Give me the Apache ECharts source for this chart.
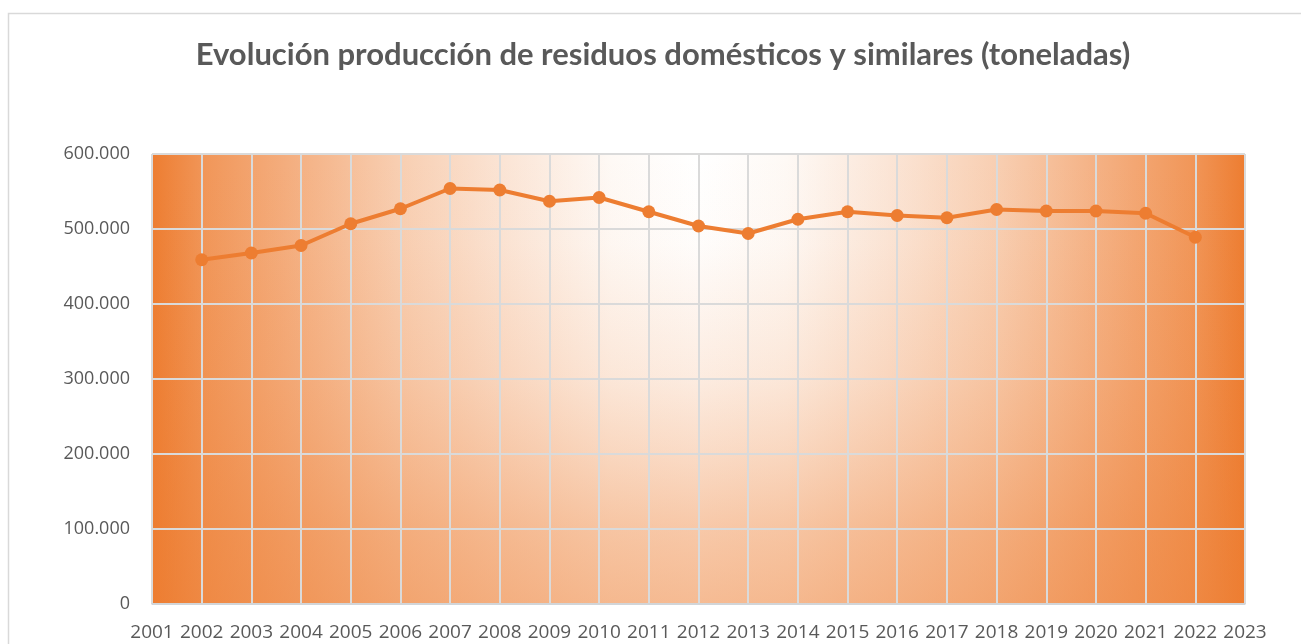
<!DOCTYPE html>
<html>
<head>
<meta charset="utf-8">
<script src="https://cdn.jsdelivr.net/npm/echarts@6/dist/echarts.min.js"></script>
<style>
  html, body { margin: 0; padding: 0; background: #fff; }
  #main { width: 1301px; height: 644px; }
</style>
</head>
<body>
<div id="main"></div>
<script>
var years = ['2001', '2002', '2003', '2004', '2005', '2006', '2007', '2008', '2009', '2010', '2011', '2012',
    '2013', '2014', '2015', '2016', '2017', '2018', '2019', '2020', '2021', '2022', '2023'];
var residuos = [null, 459000, 468000, 478000, 507000, 527000, 554000, 552000, 537000, 542000, 523000, 504000,
    494000, 513000, 523000, 518000, 515000, 526000, 524000, 524000, 521000, 489000, null];
var yTicks = [0, 100000, 200000, 300000, 400000, 500000, 600000];

var dom = document.getElementById('main');
var myChart = echarts.init(dom);

// plot box in px
var plotLeft = 152, plotTop = 154, plotW = 1093, plotH = 450;

function miles(v) {
    return String(v).replace(/\B(?=(\d{3})+(?!\d))/g, '.');
}

var option = {
    title: {
        text: 'Evolución producción de residuos domésticos y similares (toneladas)',
        left: 658,
        textAlign: 'center',
        top: 34,
        textStyle: {
            fontFamily: 'Lato',
            fontWeight: 'bold',
            fontSize: 31,
            color: '#595959'
        }
    },
    graphic: [
        {
            type: 'rect',
            silent: true,
            z: -20,
            shape: { x: 8.5, y: 13.5, width: 1400, height: 800 },
            style: { fill: '#fff', stroke: '#d9d9d9', lineWidth: 1.5 }
        },
        {
            // horizontal part of the fill
            type: 'rect',
            silent: true,
            z: -12,
            shape: { x: plotLeft, y: plotTop, width: plotW, height: plotH },
            style: {
                fill: new echarts.graphic.LinearGradient(0, 0, 1, 0, [
                    { offset: 0, color: '#ed7d31' },
                    { offset: 0.05, color: '#f1975a' },
                    { offset: 0.125, color: '#f4ae7f' },
                    { offset: 0.225, color: '#f8ceb1' },
                    { offset: 0.325, color: '#fbe5d6' },
                    { offset: 0.42, color: '#fef9f5' },
                    { offset: 0.5, color: '#ffffff' },
                    { offset: 0.58, color: '#fef9f5' },
                    { offset: 0.675, color: '#fbe5d6' },
                    { offset: 0.775, color: '#f8ceb1' },
                    { offset: 0.875, color: '#f4ae7f' },
                    { offset: 0.95, color: '#f1975a' },
                    { offset: 1, color: '#ed7d31' }
                ])
            }
        },
        {
            // vertical darkening towards the bottom
            type: 'rect',
            silent: true,
            z: -11,
            shape: { x: plotLeft, y: plotTop, width: plotW, height: plotH },
            style: {
                fill: new echarts.graphic.LinearGradient(0, 0, 0, 1, [
                    { offset: 0, color: 'rgba(237,125,49,0)' },
                    { offset: 0.2, color: 'rgba(237,125,49,0.02)' },
                    { offset: 0.5, color: 'rgba(237,125,49,0.15)' },
                    { offset: 0.66, color: 'rgba(237,125,49,0.27)' },
                    { offset: 0.83, color: 'rgba(237,125,49,0.42)' },
                    { offset: 1, color: 'rgba(237,125,49,0.52)' }
                ])
            }
        }
    ],
    grid: {
        left: plotLeft,
        top: plotTop,
        width: plotW,
        height: plotH
    },
    xAxis: {
        type: 'category',
        data: years,
        boundaryGap: false,
        axisTick: { show: false },
        axisLine: { show: true, lineStyle: { color: '#cfd3d8', width: 1.5 } },
        axisLabel: {
            interval: 0,
            margin: 19,
            fontFamily: 'Open Sans',
            fontSize: 19,
            color: '#595959'
        },
        splitLine: { show: true, lineStyle: { color: '#dadada', width: 2 } }
    },
    yAxis: {
        type: 'value',
        min: yTicks[0],
        max: yTicks[yTicks.length - 1],
        interval: 100000,
        axisLine: { show: false },
        axisTick: { show: false },
        axisLabel: {
            margin: 22,
            fontFamily: 'Open Sans',
            fontSize: 18,
            color: '#595959',
            formatter: function (v) { return miles(v); }
        },
        splitLine: { show: true, lineStyle: { color: '#dadada', width: 2 } }
    },
    series: [
        {
            name: 'Residuos',
            type: 'line',
            data: residuos,
            symbol: 'circle',
            symbolSize: 13,
            itemStyle: { color: '#ed7d31' },
            lineStyle: { color: '#ed7d31', width: 4 }
        }
    ],
    animation: false
};

myChart.setOption(option);
</script>
</body>
</html>
